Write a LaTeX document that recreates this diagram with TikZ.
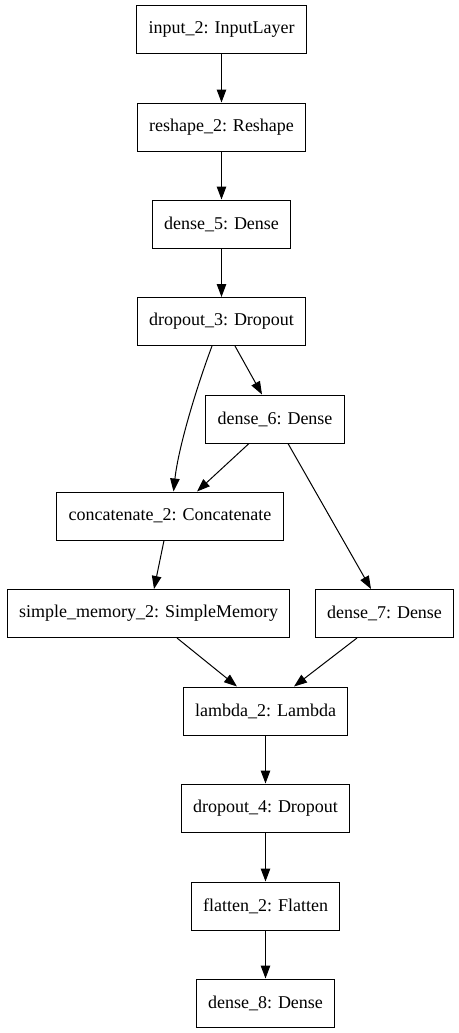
\documentclass[tikz,border=0pt]{standalone}
\usepackage{fontspec}
\setmainfont{Liberation Serif}
\usetikzlibrary{arrows.meta}

\begin{document}
\begin{tikzpicture}[x=1pt,y=-1pt]

    \tikzset{
      layer/.style={
        draw,
        line width=1pt,
        rectangle,
        inner xsep=12pt,
        minimum height=48pt,
        font=\fontsize{18}{20}\selectfont,
      },
      edge/.style={
        line width=1pt,
        >={Triangle[length=13pt,width=9.5pt]},
        ->,
      },
    }

	\useasboundingbox (0,0) rectangle (458,1033);

	\node[layer] (input_2) at (221.5,29.5) {input\_2: InputLayer};
	\node[layer] (reshape_2) at (221.5,127) {reshape\_2: Reshape};
	\node[layer] (dense_5) at (221.5,224) {dense\_5: Dense};
	\node[layer] (dropout_3) at (221.5,321.5) {dropout\_3: Dropout};
	\node[layer] (dense_6) at (275,419) {dense\_6: Dense};
	\node[layer] (concatenate_2) at (170,516) {concatenate\_2: Concatenate};
	\node[layer] (simple_memory_2) at (148.5,613.5) {simple\_memory\_2: SimpleMemory};
	\node[layer] (dense_7) at (384.5,613.5) {dense\_7: Dense};
	\node[layer] (lambda_2) at (265.5,711) {lambda\_2: Lambda};
	\node[layer] (dropout_4) at (265.5,808) {dropout\_4: Dropout};
	\node[layer] (flatten_2) at (265.5,906) {flatten\_2: Flatten};
	\node[layer] (dense_8) at (265.5,1003) {dense\_8: Dense};

	\draw[edge] (input_2) -- (reshape_2);
	\draw[edge] (reshape_2) -- (dense_5);
	\draw[edge] (dense_5) -- (dropout_3);
	\draw[edge] ([xshift=-9.5pt]dropout_3.south) .. controls +(-15,40) and +(5,-45) .. ([xshift=3.5pt]concatenate_2.north);
	\draw[edge] ([xshift=13.5pt]dropout_3.south) -- ([xshift=-13pt]dense_6.north);
	\draw[edge] ([xshift=-26pt]dense_6.south) -- ([xshift=27pt]concatenate_2.north);
	\draw[edge] ([xshift=13pt]dense_6.south) -- ([xshift=-13.5pt]dense_7.north);
	\draw[edge] ([xshift=-6pt]concatenate_2.south) -- ([xshift=5.5pt]simple_memory_2.north);
	\draw[edge] ([xshift=28.5pt]simple_memory_2.south) -- ([xshift=-28.5pt]lambda_2.north);
	\draw[edge] ([xshift=-27.5pt]dense_7.south) -- ([xshift=28.5pt]lambda_2.north);
	\draw[edge] (lambda_2) -- (dropout_4);
	\draw[edge] (dropout_4) -- (flatten_2);
	\draw[edge] (flatten_2) -- (dense_8);

\end{tikzpicture}
\end{document}
